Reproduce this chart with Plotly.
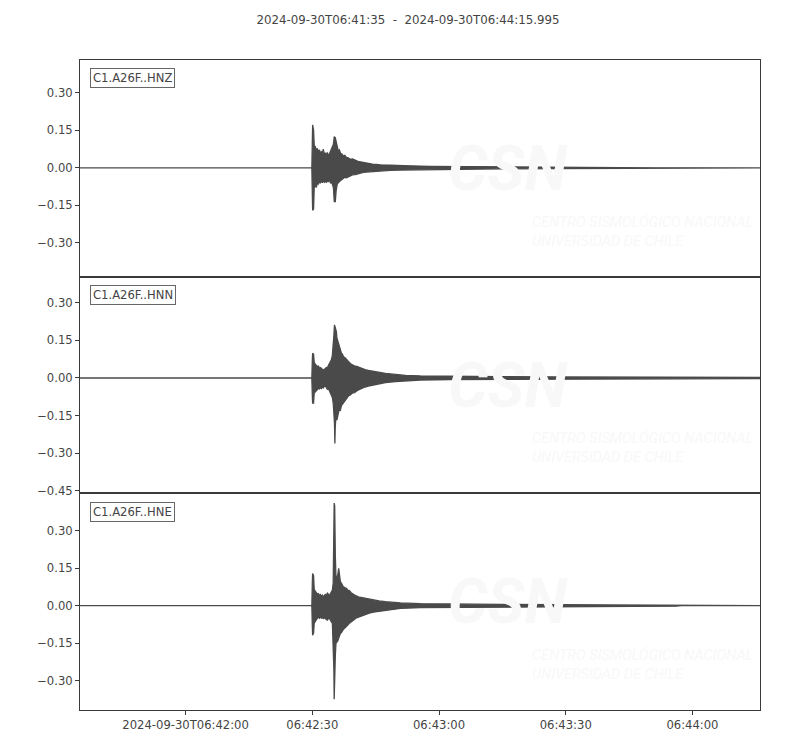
import datetime as dt
import plotly.graph_objects as go
from plotly.subplots import make_subplots

# ---------------- data (seconds after 06:41:35, envelope max / min) ----------------
START = "2024-09-30T06:41:35"
END = "2024-09-30T06:44:15.995"
channels = ["C1.A26F..HNZ", "C1.A26F..HNN", "C1.A26F..HNE"]

hnz_t = [0, 54.89, 55.0, 55.08, 55.30, 55.45, 55.70, 55.96, 56.20, 56.43, 56.70, 56.91,
         57.15, 57.38, 57.60, 57.85, 58.09, 58.33, 58.57, 58.80, 59.04, 59.28, 59.51,
         59.75, 60.00, 60.20, 60.45, 60.65, 60.90, 61.15, 61.41, 61.70, 62.00, 62.30,
         62.70, 63.07, 63.50, 64.02, 64.50, 65.20, 65.80, 66.39, 67.10, 67.81, 68.50,
         69.24, 70.2, 71.13, 73.50, 75.87, 78.25, 82.99, 90.10, 99.59, 113.81, 128.04,
         135.15, 136.5, 160.995]
hnz_max = [0, 0, 0.10, 0.172, 0.150, 0.090, 0.085, 0.070, 0.078, 0.062, 0.072, 0.058,
           0.064, 0.056, 0.075, 0.052, 0.060, 0.050, 0.062, 0.048, 0.055, 0.065, 0.070,
           0.080, 0.095, 0.125, 0.120, 0.105, 0.080, 0.068, 0.072, 0.058, 0.055, 0.048,
           0.050, 0.042, 0.040, 0.034, 0.036, 0.030, 0.026, 0.024, 0.021, 0.018, 0.016,
           0.015, 0.014, 0.012, 0.011, 0.009, 0.008, 0.006, 0.005, 0.004, 0.003, 0.002,
           0.0015, 0, 0]
hnz_min = [0, 0, -0.09, -0.170, -0.165, -0.080, -0.072, -0.078, -0.060, -0.065, -0.055, -0.062,
           -0.050, -0.060, -0.052, -0.058, -0.050, -0.060, -0.052, -0.055, -0.048, -0.060, -0.058,
           -0.065, -0.080, -0.135, -0.135, -0.090, -0.065, -0.060, -0.055, -0.050, -0.045, -0.043,
           -0.038, -0.040, -0.034, -0.032, -0.028, -0.027, -0.024, -0.022, -0.018, -0.017, -0.015,
           -0.014, -0.012, -0.012, -0.010, -0.009, -0.008, -0.006, -0.005, -0.004, -0.003, -0.002,
           -0.0015, 0, 0]

hnn_t = [0, 54.89, 55.0, 55.08, 55.30, 55.45, 55.70, 55.96, 56.20, 56.43, 56.70, 56.91,
         57.15, 57.38, 57.60, 57.85, 58.09, 58.33, 58.57, 58.80, 59.04, 59.28, 59.51,
         59.75, 59.95, 60.11, 60.25, 60.34, 60.42, 60.55, 60.70, 60.82, 61.00, 61.17,
         61.40, 61.65, 61.90, 62.12, 62.40, 62.83, 63.20, 63.54, 64.00, 64.49, 65.00,
         65.68, 66.30, 66.86, 67.50, 68.29, 69.10, 69.95, 71.0, 72.32, 74.69, 77.06,
         80.62, 87.73, 99.59, 113.81, 128.04, 147.00, 160.995]
hnn_max = [0, 0, 0.07, 0.099, 0.095, 0.062, 0.055, 0.050, 0.045, 0.048, 0.040, 0.042,
           0.036, 0.035, 0.032, 0.034, 0.038, 0.042, 0.040, 0.050, 0.058, 0.062, 0.072,
           0.090, 0.120, 0.170, 0.212, 0.205, 0.212, 0.200, 0.185, 0.160, 0.150, 0.135,
           0.120, 0.110, 0.099, 0.095, 0.085, 0.080, 0.070, 0.066, 0.058, 0.052, 0.048,
           0.045, 0.040, 0.035, 0.033, 0.030, 0.027, 0.025, 0.022, 0.018, 0.014, 0.010,
           0.008, 0.006, 0.005, 0.004, 0.003, 0.0025, 0.002]
hnn_min = [0, 0, -0.07, -0.100, -0.100, -0.060, -0.058, -0.052, -0.046, -0.042, -0.044, -0.038,
           -0.042, -0.036, -0.040, -0.033, -0.032, -0.038, -0.045, -0.042, -0.055, -0.058, -0.070,
           -0.078, -0.100, -0.130, -0.180, -0.261, -0.200, -0.165, -0.150, -0.168, -0.150, -0.140,
           -0.125, -0.128, -0.110, -0.105, -0.095, -0.088, -0.080, -0.072, -0.068, -0.060, -0.058,
           -0.050, -0.044, -0.040, -0.036, -0.032, -0.030, -0.026, -0.022, -0.018, -0.014, -0.010,
           -0.008, -0.006, -0.005, -0.004, -0.003, -0.0025, -0.002]

hne_t = [0, 54.89, 55.0, 55.08, 55.30, 55.45, 55.70, 55.96, 56.20, 56.43, 56.70, 56.91,
         57.15, 57.38, 57.60, 57.85, 58.09, 58.33, 58.57, 58.80, 59.04, 59.28, 59.51,
         59.75, 59.95, 60.10, 60.18, 60.30, 60.45, 60.60, 60.80, 61.05, 61.25, 61.41,
         61.65, 61.89, 62.12, 62.36, 62.70, 63.07, 63.40, 63.78, 64.20, 64.73, 65.30,
         65.91, 66.70, 67.58, 68.50, 69.47, 70.8, 72.32, 75.87, 80.62, 87.73, 99.59,
         113.81, 128.04, 141.08, 142.5, 160.995]
hne_max = [0, 0, 0.09, 0.129, 0.120, 0.065, 0.058, 0.050, 0.046, 0.048, 0.040, 0.044,
           0.038, 0.042, 0.036, 0.040, 0.045, 0.042, 0.050, 0.046, 0.040, 0.048, 0.055,
           0.062, 0.090, 0.300, 0.411, 0.400, 0.200, 0.115, 0.110, 0.125, 0.150, 0.120,
           0.095, 0.090, 0.078, 0.075, 0.072, 0.070, 0.062, 0.060, 0.052, 0.045, 0.040,
           0.035, 0.032, 0.029, 0.025, 0.022, 0.019, 0.016, 0.011, 0.008, 0.006, 0.005,
           0.004, 0.003, 0.002, 0, 0]
hne_min = [0, 0, -0.08, -0.118, -0.110, -0.070, -0.062, -0.058, -0.050, -0.046, -0.050, -0.044,
           -0.050, -0.048, -0.052, -0.048, -0.052, -0.055, -0.058, -0.052, -0.050, -0.056, -0.065,
           -0.070, -0.100, -0.250, -0.375, -0.370, -0.200, -0.151, -0.145, -0.140, -0.130, -0.120,
           -0.112, -0.108, -0.105, -0.095, -0.090, -0.085, -0.078, -0.070, -0.064, -0.058, -0.050,
           -0.045, -0.040, -0.036, -0.030, -0.026, -0.022, -0.018, -0.011, -0.008, -0.006, -0.005,
           -0.004, -0.003, -0.002, 0, 0]

y_ranges = [[-0.436, 0.432], [-0.460, 0.404], [-0.418, 0.450]]
y_tickvals = [[0.30, 0.15, 0.0, -0.15, -0.30],
              [0.30, 0.15, 0.0, -0.15, -0.30, -0.45],
              [0.30, 0.15, 0.0, -0.15, -0.30]]
x_tick_times = ["2024-09-30 06:42:00", "2024-09-30 06:42:30", "2024-09-30 06:43:00",
                "2024-09-30 06:43:30", "2024-09-30 06:44:00"]
x_tick_labels = ["2024-09-30T06:42:00", "06:42:30", "06:43:00", "06:43:30", "06:44:00"]

# ---------------- figure ----------------
TRACE = "#4a4a4a"
TEXT = "#444444"
FONT = "DejaVu Sans"
WM = "#f8f8f8"
WMFONT = "Roboto, DejaVu Sans"

base = dt.datetime.fromisoformat(START)
end = dt.datetime.fromisoformat(END)

def fmt(v):
    s = f"{abs(v):.2f}"
    return ("\u2212" + s) if v < 0 else s

fig = make_subplots(rows=3, cols=1, shared_xaxes=True, vertical_spacing=0)

series = [(hnz_t, hnz_max, hnz_min), (hnn_t, hnn_max, hnn_min), (hne_t, hne_max, hne_min)]

for i in range(3):
    axn = "" if i == 0 else str(i + 1)
    # faint watermark (drawn below the data)
    fig.add_annotation(xref=f"x{axn} domain", yref=f"y{axn} domain", x=0.63, y=0.50,
                       xanchor="center", yanchor="middle", text="<b><i>CSN</i></b>",
                       showarrow=False, font=dict(family=WMFONT, size=62, color=WM))
    fig.add_annotation(xref=f"x{axn} domain", yref=f"y{axn} domain", x=0.662, y=0.21,
                       xanchor="left", yanchor="middle",
                       text="<i>CENTRO SISMOLÓGICO NACIONAL<br>UNIVERSIDAD DE CHILE</i>",
                       align="left", showarrow=False,
                       font=dict(family=WMFONT, size=14.5, color=WM))

for i, (t, up, lo) in enumerate(series):
    times = [base + dt.timedelta(seconds=s) for s in t]
    xs = times + times[::-1]
    ys = up + lo[::-1]
    fig.add_trace(go.Scatter(x=xs, y=ys, mode="lines", fill="toself",
                             fillcolor=TRACE, line=dict(color=TRACE, width=1.3),
                             hoverinfo="skip", showlegend=False), row=i + 1, col=1)

for i in range(3):
    axn = "" if i == 0 else str(i + 1)
    fig.update_yaxes(range=y_ranges[i], tickvals=y_tickvals[i],
                     ticktext=[fmt(v) for v in y_tickvals[i]],
                     showgrid=False, zeroline=False, showline=True, mirror=True,
                     linecolor="#3a3a3a", linewidth=1, ticks="outside", ticklen=4,
                     tickcolor="#3a3a3a", tickfont=dict(family=FONT, size=11.6, color=TEXT),
                     row=i + 1, col=1)
    fig.update_xaxes(range=[base, end], showgrid=False, zeroline=False, showline=True,
                     mirror=True, linecolor="#3a3a3a", linewidth=1,
                     row=i + 1, col=1)
    # station label
    fig.add_annotation(xref=f"x{axn} domain", yref=f"y{axn} domain", x=0.014, y=0.962,
                       xanchor="left", yanchor="top", text=channels[i], showarrow=False,
                       font=dict(family=FONT, size=11.6, color=TEXT),
                       bgcolor="white", bordercolor="#666666", borderwidth=1, borderpad=2)

fig.update_xaxes(tickvals=x_tick_times, ticktext=x_tick_labels, ticks="outside",
                 ticklen=4, tickcolor="#3a3a3a",
                 tickfont=dict(family=FONT, size=11.6, color=TEXT), row=3, col=1)
fig.update_xaxes(showticklabels=False, ticks="", row=1, col=1)
fig.update_xaxes(showticklabels=False, ticks="", row=2, col=1)

fig.update_layout(
    width=800, height=750,
    margin=dict(l=72, r=48, t=52, b=48),
    paper_bgcolor="white", plot_bgcolor="white",
    title=dict(text=f"{START}  -  {END}", x=0.5, xanchor="center", y=0.984,
               yanchor="middle", font=dict(family=FONT, size=11.8, color=TEXT)),
    showlegend=False,
)

fig.write_html("out.html")
